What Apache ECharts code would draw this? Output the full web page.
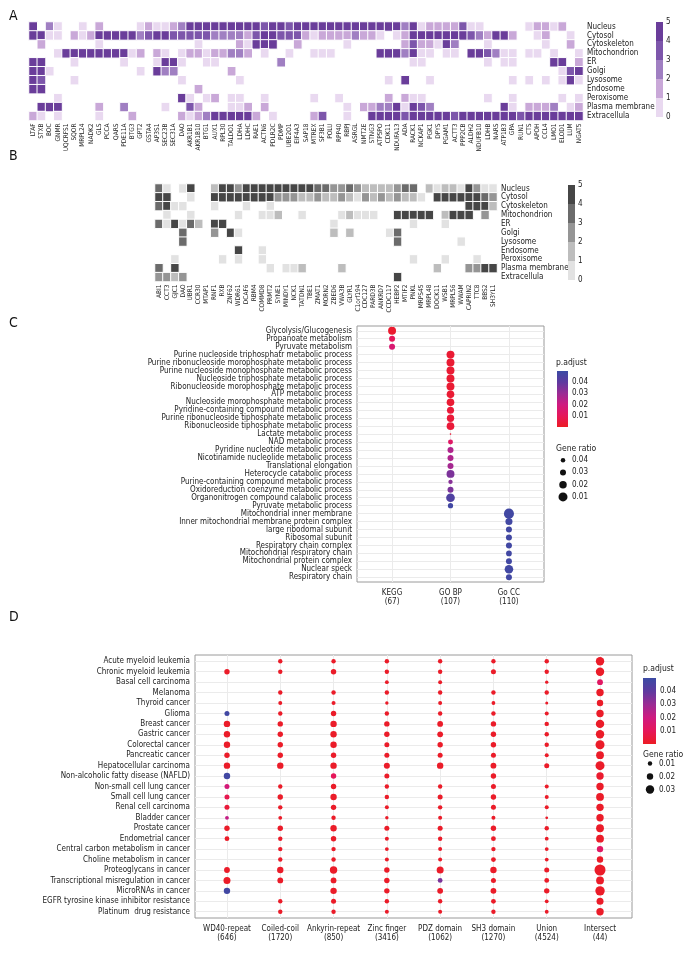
<!DOCTYPE html>
<html>
<head>
<meta charset="utf-8">
<script src="https://cdn.jsdelivr.net/npm/echarts@6/dist/echarts.min.js"></script>
<style>
html, body { margin: 0; padding: 0; background: #fff; }
#chart { width: 694px; height: 960px; }
</style>
</head>
<body>
<div id="chart"></div>
<script>
const FONT = "'Liberation Sans Narrow', 'DejaVu Sans Condensed', 'Roboto Condensed', 'Liberation Sans', sans-serif";

// ---- panel A / B : subcellular location heatmaps ----
const locations = ['Nucleus', 'Cytosol', 'Cytoskeleton', 'Mitochondrion', 'ER', 'Golgi', 'Lysosome', 'Endosome', 'Peroxisome', 'Plasma membrane', 'Extracellula'];
const levelTicks = [0, 1, 2, 3, 4, 5];

const genesA = ['LTAF','STXB','BOC','GNMR','UQCRFS1','SQOR','MRPL24','NADK2','GLS','PCCA','QARS','PDE11A','BTG3','GPT2','GSTA4','AP3S1','SEC23B','SEC31A','DAO','AKR1B1','AKR1B10','BTG1','AUX1','RPL30','TALDO1','LDHA','LDHC','RAE1','ACTN6','PDLR2C','PDMP','UBE2O1','EIF4A3','SAP18','MTREX','SF3B1','POLU','RPP40','RBPJ','ASRGL','NMT2E','STNG3','ATP5PO','CDK11','NDUFA13','ADA','RACK1','NCKAP1','PGK1','DPYS','PGAM1','ACTT3','PPP2CB','ALDH2','NDUFB10','LDHB','NARS','ATP1B3','GPA','RUN1','CTS','APOH','CCL4','LMO1','ELOD1','LUM','NGAT5'];
const aNucleus      = [5,0,3,1,0,0,1,0,2,0, 0,0,0,1,2,1,1,2,3,5, 5,5,5,5,5,5,5,5,4,5, 5,4,5,5,5,5,5,5,5,5, 5,5,5,5,5,3,5,1,2,2, 2,2,4,1,1,0,0,0,0,0, 1,2,2,1,2,0,0];
const aCytosol      = [5,5,1,1,0,2,1,2,5,5, 5,5,5,3,4,5,5,4,4,4, 4,4,3,3,3,3,2,4,5,5, 4,4,4,2,1,2,2,2,2,3, 2,2,1,0,1,2,5,5,5,5, 5,5,5,4,3,2,5,5,2,0, 0,1,2,0,0,1,0];
const aCytoskeleton = [0,2,0,0,0,0,0,0,1,0, 0,0,0,0,0,0,0,0,0,0, 1,0,0,0,0,2,1,5,5,5, 0,0,2,0,0,0,0,0,1,0, 0,0,0,0,0,2,4,2,2,1, 5,3,0,0,0,1,0,0,0,0, 0,0,1,0,0,2,0];
const aMito         = [0,0,0,1,5,5,5,5,5,5, 5,5,1,2,0,2,1,0,1,2, 2,1,2,2,3,3,2,0,1,0, 0,1,0,0,1,1,1,0,0,0, 0,0,5,5,5,3,5,1,1,0, 1,1,0,5,5,4,3,1,1,0, 1,1,0,1,0,0,1];
const aER           = [5,5,0,0,0,1,0,0,0,0, 0,1,0,0,0,1,5,5,1,0, 0,1,1,0,0,0,0,0,0,0, 3,0,0,0,0,0,0,0,0,0, 0,0,0,0,0,0,1,1,0,0, 0,0,0,0,0,1,0,1,1,0, 0,0,0,5,5,0,2];
const aGolgi        = [5,5,1,0,0,0,0,0,0,0, 0,0,0,1,0,5,3,3,0,0, 0,0,0,0,2,0,0,0,0,0, 0,0,0,0,0,0,0,0,0,0, 0,0,0,0,0,0,0,0,0,0, 0,0,0,0,0,0,0,0,0,0, 0,0,0,0,1,4,5];
const aLyso         = [5,4,0,0,0,1,0,0,0,0, 0,0,0,0,0,0,0,0,1,0, 0,0,0,0,0,1,0,0,0,0, 0,0,0,0,0,0,0,0,0,0, 0,0,0,1,0,5,0,0,1,0, 0,0,0,0,0,0,0,0,1,0, 1,0,1,0,1,5,1];
const aEndo         = [5,5,0,0,0,0,0,0,0,0, 0,0,0,0,0,0,0,0,0,0, 2,0,0,0,0,0,0,0,0,0, 0,0,0,0,0,0,0,0,0,0, 0,0,0,0,0,0,0,0,0,0, 0,0,0,0,0,0,0,0,0,0, 0,0,0,0,0,0,0];
const aPerox        = [0,0,0,1,0,0,0,0,0,0, 0,0,0,0,0,0,0,0,5,1, 0,1,2,0,1,1,0,0,1,0, 0,0,0,0,1,0,0,1,0,0, 0,0,0,2,0,2,1,1,0,0, 0,0,0,0,0,1,0,0,1,0, 0,0,0,0,1,0,1];
const aPlasma       = [0,5,5,5,0,0,0,0,2,0, 0,3,0,0,0,0,1,0,0,4, 2,0,0,0,1,1,2,0,2,0, 0,0,0,0,0,0,0,0,1,0, 2,2,3,3,5,1,5,4,3,0, 0,0,0,0,0,0,0,5,1,0, 2,2,2,3,0,1,2];
const aExtra        = [2,1,0,1,0,0,0,0,1,0, 0,0,2,0,0,0,0,0,2,1, 2,3,5,5,5,5,5,2,0,1, 0,0,0,0,2,4,0,0,1,0, 0,5,5,5,5,4,5,5,5,5, 5,4,5,5,5,5,5,5,5,4, 5,5,5,5,5,5,5];

const genesB = ['ABI1','CCT3','GJC1','DAO','UBR1','CCR30','MTAP1','RNF1','RXB','ZNF62','WDR61','DCAF6','RBM4','COMMD8','PRMT2','SYNE1','MINDY1','NCK1','TATDN1','TBE1','ZMAT1','MORN2','ZBED6','VWA3B','GLYR1','C1orf194','CDC127','PARD3B','ANKRD7','CCDC117','HEBP2','MTIF2','PNKL','MRPS45','MRPL48','DOCK11','WSB1','MRPL56','WWAM','CAPRIN2','TTC8','BBS2','SH3YL1'];
const bNucleus      = [4,1,0,1,5,0,0,2,5,5, 3,5,5,5,5,5,5,5,5,5, 4,4,3,3,4,3,2,2,2,2, 3,4,4,0,2,1,2,2,1,5, 3,1,1];
const bCytosol      = [5,5,0,0,1,0,0,5,5,5, 5,5,5,5,5,3,3,3,2,2, 3,2,2,3,2,1,3,2,3,2, 3,2,2,1,0,5,5,5,5,5, 5,4,3];
const bCytoskeleton = [4,5,1,1,0,0,0,1,0,0, 0,1,0,0,1,0,0,0,0,0, 0,0,0,0,0,0,0,0,0,0, 0,0,0,0,0,0,0,0,0,5, 5,5,2];
const bMito         = [0,1,0,0,1,0,0,0,0,0, 1,0,0,1,1,2,0,0,1,0, 0,0,0,1,2,1,1,1,0,0, 5,5,5,5,5,0,2,5,5,5, 0,3,0];
const bER           = [4,1,5,1,4,2,0,5,5,0, 0,0,0,0,0,0,0,0,0,0, 0,0,1,0,0,0,0,0,0,0, 0,0,1,0,0,0,1,0,0,0, 0,0,0];
const bGolgi        = [0,0,0,4,0,0,0,3,0,5, 1,0,0,0,0,0,0,0,0,0, 0,0,2,0,2,0,0,0,0,1, 4,0,0,0,0,0,0,0,0,0, 0,0,0];
const bLyso         = [0,0,0,4,0,0,0,0,0,0, 0,0,0,0,0,0,0,0,0,0, 0,0,0,0,0,0,0,0,0,0, 4,0,0,0,0,0,0,0,1,0, 0,0,0];
const bEndo         = [0,0,0,0,0,0,0,0,0,0, 5,0,0,1,0,0,0,0,0,0, 0,0,0,0,0,0,0,0,0,0, 0,0,0,0,0,0,0,0,0,0, 0,0,0];
const bPerox        = [0,0,1,0,0,0,0,0,1,0, 1,0,0,1,0,0,0,0,0,0, 0,0,0,0,0,0,0,0,0,0, 0,0,1,0,0,0,1,0,0,0, 1,0,0];
const bPlasma       = [4,0,5,0,0,0,0,0,0,0, 0,0,0,0,1,0,1,1,2,0, 0,0,0,2,0,0,0,0,0,0, 0,0,0,0,0,2,0,0,0,3, 3,5,5];
const bExtra        = [3,3,2,3,0,0,0,0,0,0, 0,0,0,0,0,0,0,0,0,0, 0,0,0,0,0,0,0,0,0,0, 5,0,0,0,0,0,0,0,0,0, 0,0,0];

const rowsA = [aNucleus, aCytosol, aCytoskeleton, aMito, aER, aGolgi, aLyso, aEndo, aPerox, aPlasma, aExtra];
const rowsB = [bNucleus, bCytosol, bCytoskeleton, bMito, bER, bGolgi, bLyso, bEndo, bPerox, bPlasma, bExtra];
const purples = ['#e9d9f0', '#c9a8d8', '#a07fc2', '#7d56ab', '#6a3d9a'];
const greys = ['#e2e2e2', '#bdbdbd', '#959595', '#6b6b6b', '#464646'];

// ---- panel C : enrichment dot plot ----
const groupsC = ['KEGG', 'GO BP', 'Go CC'];
const groupCountsC = [67, 107, 110];
const termsC = ['Glycolysis/Glucogenesis','Propanoate metabolism','Pyruvate metabolism',
  'Purine nucleoside triphosphatr metabolic process','Purine ribonucleoside morophosphate metabolic process',
  'Purine nucleoside monophosphate metabolic process','Nucleoside triphosphate metabolic process',
  'Ribonucleoside morophosphate metabolic process','ATP metabolic process','Nucleoside morophosphate metabolic process',
  'Pyridine-containing compound metabolic process','Purine ribonucleoside tiphosphate metabolic process',
  'Ribonucleoside tiphosphate metabolic process','Lactate metabolic process','NAD metabolic process',
  'Pyridine nucleotide metabolic process','Nicotinamide nucleolide metabolic process','Translational elongation',
  'Heterocycle catabolic process','Purine-containing compound metabolic process','Oxidoreduction coenzyme metabolic process',
  'Organonitrogen compound calabolic process','Pyruvate metabolic process','Mitochondrial inner membrane',
  'Inner mitochondrial membrane protein complex','large ribodomal subunit','Ribosomal subunit','Respiratory chain cornplex',
  'Mitochondrial respiratory chain','Mitochondrial protein complex','Nuclear speck','Respiratory chain'];
const groupOfTermC = [0,0,0, 1,1,1,1,1,1,1,1,1,1, 1,1,1,1,1,1,1,1,1,1, 2,2,2,2,2,2,2,2,2];
const geneRatioC = [0.017,0.030,0.030, 0.017,0.017,0.017,0.017,0.017,0.019,0.019,0.023,0.021,0.019,
  0.059,0.037,0.030,0.030,0.030,0.017,0.041,0.030,0.012,0.035,
  0.003,0.023,0.030,0.030,0.030,0.032,0.030,0.013,0.030];
const pAdjustC = [0.002,0.010,0.016, 0.003,0.003,0.003,0.003,0.003,0.003,0.003,0.004,0.004,0.004,
  0.004,0.013,0.026,0.026,0.028,0.035,0.033,0.035,0.044,0.048,
  0.048,0.048,0.048,0.048,0.048,0.048,0.048,0.048,0.048];
const ratioLegendC = [0.04, 0.03, 0.02, 0.01];

// ---- panel D : disease pathway dot plot ----
const domainsD = ['WD40-repeat','Coiled-coil','Ankyrin-repeat','Zinc finger','PDZ domain','SH3 domain','Union','Intersect'];
const domainCountsD = [646, 1720, 850, 3416, 1062, 1270, 4524, 44];
const pathwaysD = ['Acute myeloid leukemia','Chronic myeloid leukemia','Basal cell carcinoma','Melanoma','Thyroid cancer','Glioma',
  'Breast cancer','Gastric cancer','Colorectal cancer','Pancreatic cancer','Hepatocellular carcinoma',
  'Non-alcoholic fatty disease (NAFLD)','Non-small cell lung cancer','Small cell lung cancer','Renal cell carcinoma',
  'Bladder cancer','Prostate cancer','Endometrial cancer','Central carbon metabolism in cancer','Choline metabolism in cancer',
  'Proteoglycans in cancer','Transcriptional misregulation in cancer','MicroRNAs in cancer',
  'EGFR tyrosine kinase inhibitor resistance','Platinum  drug resistance'];
const _ = null;
const ratioWD40      = [_,.015,_,_,_,.013,.020,.020,.020,.015,.020,.020,.013,.013,.013,.007,.015,.012,_,_,.017,.023,.020,_,_];
const ratioCoiled    = [.010,.010,_,.010,.008,.010,.015,.015,.015,.015,.020,_,.010,.015,.010,.007,.015,.010,.010,.010,.020,.017,_,.010,.010];
const ratioAnkyrin   = [.010,.015,_,.010,.008,.015,.020,.020,.020,.015,.020,.015,.015,.020,.015,.010,.020,.015,.010,.010,.025,.017,.020,.013,.010];
const ratioZinc      = [.010,.010,.007,.010,.005,.010,.015,.015,.013,.013,.018,.013,.010,.010,.008,.005,.013,.008,.007,.008,.015,.015,.015,.010,.008];
const ratioPDZ       = [.010,.010,.008,.010,.008,.010,.017,.017,.015,.013,.020,_,.010,.013,.010,.008,.013,.010,.008,.008,.023,.012,.017,.010,.008];
const ratioSH3       = [.010,.013,_,.010,.007,.010,.015,.015,.015,.013,.017,.015,.013,.015,.013,.008,.015,.012,.010,.012,.020,.013,.017,.012,.010];
const ratioUnion     = [.010,.010,.005,.010,.003,.008,.010,.010,.010,.008,.013,_,.008,.008,.008,.002,.010,.007,.007,.007,.013,.012,.015,.007,.007];
const ratioIntersect = [.030,.030,.017,.025,.020,.025,.030,.030,.033,.027,.033,.025,.025,.027,.025,.025,.027,.027,.020,.020,.043,.027,.035,.023,.025];
const padjWD40      = [_,.001,_,_,_,.048,.001,.001,.001,.001,.001,.048,.018,.008,.004,.022,.001,.001,_,_,.001,.001,.048,_,_];
const padjCoiled    = [.001,.001,_,.001,.001,.001,.001,.001,.001,.001,.001,_,.001,.001,.001,.001,.001,.001,.001,.001,.001,.001,_,.001,.001];
const padjAnkyrin   = [.001,.001,_,.001,.001,.001,.001,.001,.001,.001,.001,.010,.001,.001,.001,.001,.001,.001,.001,.001,.001,.001,.001,.001,.001];
const padjZinc      = [.001,.001,.001,.001,.001,.001,.001,.001,.001,.001,.001,.001,.001,.001,.001,.001,.001,.001,.001,.001,.001,.001,.001,.001,.001];
const padjPDZ       = [.001,.001,.001,.001,.001,.001,.001,.001,.001,.001,.001,_,.001,.001,.001,.001,.001,.001,.001,.001,.001,.035,.001,.001,.001];
const padjSH3       = [.001,.001,_,.001,.001,.001,.001,.001,.001,.001,.001,.001,.001,.001,.001,.001,.001,.001,.001,.001,.001,.001,.001,.001,.001];
const padjUnion     = [.001,.001,.001,.001,.001,.001,.001,.001,.001,.001,.001,_,.001,.001,.001,.001,.001,.001,.001,.001,.001,.001,.001,.001,.001];
const padjIntersect = [.001,.001,.012,.001,.001,.001,.001,.001,.001,.001,.001,.002,.001,.001,.001,.001,.001,.001,.012,.001,.001,.001,.001,.001,.001];
const ratioLegendD = [0.01, 0.02, 0.03];

const ratioColsD = [ratioWD40, ratioCoiled, ratioAnkyrin, ratioZinc, ratioPDZ, ratioSH3, ratioUnion, ratioIntersect];
const padjColsD = [padjWD40, padjCoiled, padjAnkyrin, padjZinc, padjPDZ, padjSH3, padjUnion, padjIntersect];

const pAdjTicks = [0.01, 0.02, 0.03, 0.04];
const pColors = ['#ec1c24', '#e6175a', '#cf1a80', '#9a2b94', '#5e3a9f', '#3b4ba4'];
const P_MAX = 0.05;

// symbol size: panel C legend runs small -> large as ratio falls, panel D grows with ratio
const sizeC = r => Math.max(1.6, 10.5 - 150 * r);
const sizeD = r => 2.4 + 200 * r;

const grids = [], xAxes = [], yAxes = [], series = [], visualMaps = [], titles = [];
const label = extra => Object.assign({ fontFamily: FONT, color: '#222' }, extra);
const hidden = { show: false };

function addGrid(g) { grids.push(Object.assign({ containLabel: false }, g)); return grids.length - 1; }
function addAxes(x, y) { xAxes.push(x); yAxes.push(y); return [xAxes.length - 1, yAxes.length - 1]; }

// heatmap block
function heatPanel(genes, rows, palette, box, legendBox) {
  const gi = addGrid(box);
  const [xi, yi] = addAxes(
    { gridIndex: gi, type: 'category', data: genes, axisLine: hidden, axisTick: hidden, splitLine: hidden,
      axisLabel: label({ rotate: 90, interval: 0, fontSize: 6.5, margin: 3 }) },
    { gridIndex: gi, type: 'category', data: locations, inverse: true, position: 'right', axisLine: hidden, axisTick: hidden,
      splitLine: hidden, axisLabel: label({ interval: 0, fontSize: 8, margin: 4 }) }
  );
  const data = [];
  rows.forEach((row, r) => row.forEach((v, c) => { if (v > 0) data.push([c, r, v]); }));
  series.push({ type: 'heatmap', xAxisIndex: xi, yAxisIndex: yi, data, silent: true,
    itemStyle: { borderColor: '#fff', borderWidth: 1 } });
  visualMaps.push({ type: 'piecewise', show: false, seriesIndex: series.length - 1, dimension: 2,
    pieces: palette.map((c, i) => ({ value: i + 1, color: c })) });

  const li = addGrid(legendBox);
  const [lx, ly] = addAxes(
    { gridIndex: li, type: 'category', data: [''], show: false },
    { gridIndex: li, type: 'value', min: levelTicks[0], max: levelTicks[levelTicks.length - 1], interval: 1, position: 'right',
      axisLine: hidden, axisTick: hidden, splitLine: hidden, axisLabel: label({ fontSize: 8, margin: 3 }) }
  );
  palette.forEach((c, i) => series.push({ type: 'bar', xAxisIndex: lx, yAxisIndex: ly, stack: 'key' + li,
    barWidth: '100%', data: [1], silent: true, itemStyle: { color: c } }));
}

heatPanel(genesA, rowsA, purples, { left: 29, top: 22, width: 554, height: 98.5 }, { left: 656, top: 22, width: 7, height: 95 });
heatPanel(genesB, rowsB, greys, { left: 155, top: 184, width: 342, height: 97.5 }, { left: 568, top: 185, width: 7, height: 95 });

// dot plot block
const dotSeries = [];
function dotPanel(cols, counts, rowsLab, points, sizeFn, box, opts) {
  const gi = addGrid(Object.assign({ show: true, borderColor: '#9a9a9a', borderWidth: 1, backgroundColor: '#fff' }, box));
  const colIdx = cols.map((c, i) => i);
  const rowIdx = rowsLab.map((r, i) => i);
  const [xi, yi] = addAxes(
    { gridIndex: gi, type: 'value', min: -0.6, max: cols.length - 0.4, axisLine: hidden, splitLine: hidden,
      axisTick: { show: true, customValues: colIdx, length: 3, lineStyle: { color: '#555' } },
      axisLabel: label({ customValues: colIdx, fontSize: 8, lineHeight: 9.5, margin: opts.xMargin, align: 'center',
        formatter: v => cols[Math.round(v)] + '\n(' + counts[Math.round(v)] + ')' }) },
    { gridIndex: gi, type: 'value', inverse: true, min: -0.6, max: rowsLab.length - 0.4, axisLine: hidden, splitLine: hidden,
      axisTick: { show: true, customValues: rowIdx, length: 3, lineStyle: { color: '#555' } },
      axisLabel: label({ customValues: rowIdx, fontSize: opts.yFont, margin: 5, formatter: v => rowsLab[Math.round(v)] }) }
  );
  // panel grid lines through the category centres, kept under the dots
  series.push({ type: 'scatter', xAxisIndex: xi, yAxisIndex: yi, data: [], z: 1, silent: true,
    markLine: { silent: true, z: 1, symbol: ['none', 'none'], animation: false, label: { show: false },
      lineStyle: { color: '#ebebeb', width: 1, type: 'solid' },
      data: colIdx.map(i => ({ xAxis: i })).concat(rowIdx.map(i => ({ yAxis: i }))) } });
  series.push({ type: 'scatter', xAxisIndex: xi, yAxisIndex: yi, data: points, z: 6, silent: true,
    itemStyle: { opacity: 1 }, symbolSize: v => sizeFn(v[2]) });
  dotSeries.push(series.length - 1);
}

function pAdjustKey(box) {
  const gi = addGrid(box);
  xAxes.push({ gridIndex: gi, type: 'category', data: [''], show: false });
  const tick = { show: true, inside: true, length: 2.5, customValues: pAdjTicks, lineStyle: { color: '#fff', width: 1 } };
  yAxes.push({ gridIndex: gi, type: 'value', min: 0, max: P_MAX, position: 'right', axisLine: hidden, splitLine: hidden,
    axisTick: tick, axisLabel: label({ customValues: pAdjTicks, fontSize: 8, margin: 4, formatter: v => v.toFixed(2) }) });
  const yi = yAxes.length - 1;
  yAxes.push({ gridIndex: gi, type: 'value', min: 0, max: P_MAX, position: 'left', axisLine: hidden, splitLine: hidden,
    axisTick: tick, axisLabel: hidden });
  const stops = pColors.map((c, i) => ({ offset: 1 - i / (pColors.length - 1), color: c })).reverse();
  series.push({ type: 'bar', xAxisIndex: xAxes.length - 1, yAxisIndex: yi, data: [P_MAX], barWidth: '100%', silent: true, z: 1,
    itemStyle: { color: new echarts.graphic.LinearGradient(0, 0, 0, 1, stops) } });
}

function ratioKey(values, sizeFn, box) {
  const gi = addGrid(box);
  const [xi, yi] = addAxes(
    { gridIndex: gi, type: 'value', min: -1, max: 1, show: false },
    { gridIndex: gi, type: 'category', data: values.map(v => v.toFixed(2)), inverse: true, position: 'right',
      axisLine: hidden, axisTick: hidden, splitLine: hidden, axisLabel: label({ interval: 0, fontSize: 8, margin: 3 }) }
  );
  series.push({ type: 'scatter', xAxisIndex: xi, yAxisIndex: yi, silent: true,
    data: values.map((v, i) => [0, i, v]), symbolSize: v => sizeFn(v[2]), itemStyle: { color: '#111', opacity: 1 } });
}

const pointsC = termsC.map((t, i) => [groupOfTermC[i], i, geneRatioC[i], pAdjustC[i]]);
dotPanel(groupsC, groupCountsC, termsC, pointsC, sizeC, { left: 357, top: 326, width: 187, height: 256 }, { xMargin: 6, yFont: 8 });
pAdjustKey({ left: 557, top: 371, width: 11, height: 56 });
ratioKey(ratioLegendC, sizeC, { left: 557, top: 454, width: 12, height: 49 });

const pointsD = [];
ratioColsD.forEach((col, c) => col.forEach((r, i) => { if (r !== null) pointsD.push([c, i, r, padjColsD[c][i]]); }));
dotPanel(domainsD, domainCountsD, pathwaysD, pointsD, sizeD, { left: 195, top: 655, width: 437, height: 263 }, { xMargin: 6, yFont: 8 });
pAdjustKey({ left: 643, top: 678, width: 13, height: 66 });
ratioKey(ratioLegendD, sizeD, { left: 644, top: 757, width: 12, height: 39 });

visualMaps.push({ type: 'continuous', show: false, min: 0, max: P_MAX, dimension: 3, seriesIndex: dotSeries,
  inRange: { color: pColors } });

// panel letters and key titles
[['A', 9, 9], ['B', 9, 149], ['C', 9, 316], ['D', 9, 610]].forEach(([t, l, tp]) =>
  titles.push({ text: t, left: l, top: tp, padding: 0, textStyle: { fontFamily: FONT, fontSize: 14, fontWeight: 'normal', color: '#111' } }));
[['p.adjust', 556, 358], ['Gene ratio', 556, 444], ['p.adjust', 643, 664], ['Gene ratio', 643, 750]].forEach(([t, l, tp]) =>
  titles.push({ text: t, left: l, top: tp, padding: 0, textStyle: { fontFamily: FONT, fontSize: 8.5, fontWeight: 'normal', color: '#222' } }));

const chart = echarts.init(document.getElementById('chart'));
chart.setOption({
  animation: false,
  backgroundColor: '#fff',
  textStyle: { fontFamily: FONT },
  title: titles,
  grid: grids,
  xAxis: xAxes,
  yAxis: yAxes,
  visualMap: visualMaps,
  series: series
});
</script>
</body>
</html>
